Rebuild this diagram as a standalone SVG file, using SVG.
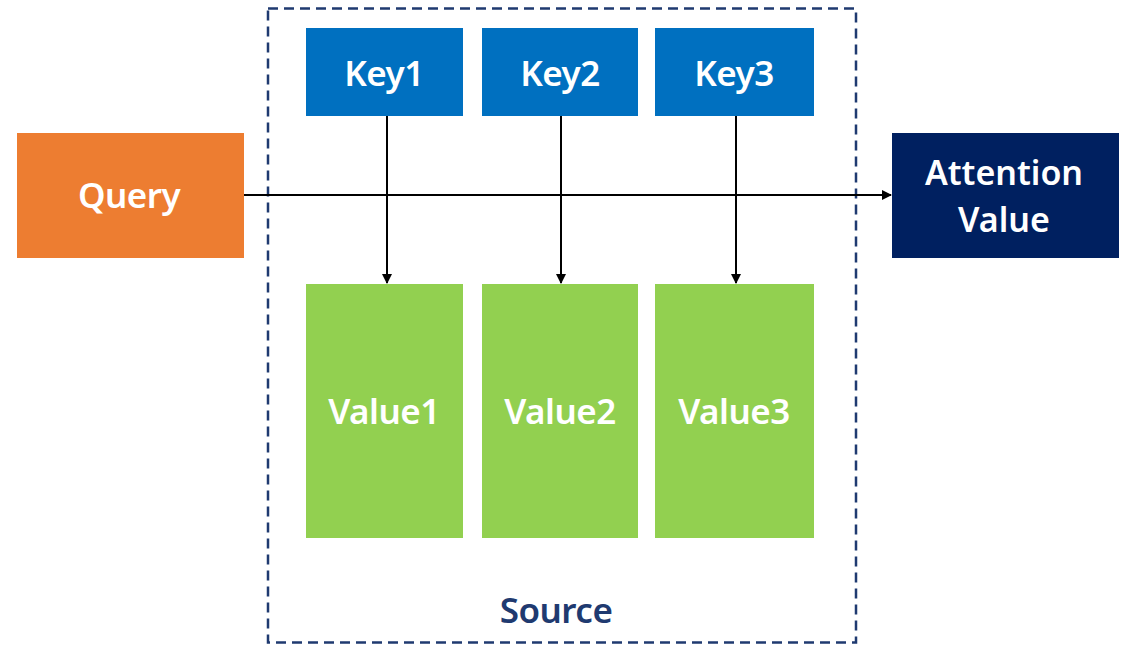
<svg xmlns="http://www.w3.org/2000/svg" width="1127" height="647" viewBox="0 0 1127 647">
  <style>
    .lbl { font-family: "Noto Sans", "Open Sans", "Liberation Sans", sans-serif; font-weight: 600; fill: #ffffff; text-anchor: middle; font-size: 35px; letter-spacing: -0.5px; }
    .lbl2 { font-size: 34px; letter-spacing: 0px; }
    .key { fill: #0070C0; }
    .val { fill: #92D050; }
    .wire { stroke: #000000; stroke-width: 2; fill: none; }
  </style>
  <defs>
    <marker id="arrow" viewBox="0 0 10 10" refX="9" refY="5" markerWidth="5" markerHeight="5" orient="auto">
      <path d="M0,0 L10,5 L0,10 z" fill="#000000"/>
    </marker>
  </defs>
  <rect width="1127" height="647" fill="#ffffff"/>

  <!-- source boundary -->
  <g id="source">
    <rect x="268" y="8.5" width="588" height="634" fill="none" stroke="#1F3A70" stroke-width="2.5" stroke-dasharray="10 6"/>
    <text x="556" y="623" font-family="Noto Sans, Open Sans, Liberation Sans, sans-serif" font-weight="600" font-size="35" letter-spacing="-0.5" fill="#1F3A70" text-anchor="middle">Source</text>
  </g>

  <g id="query">
    <rect x="17" y="133" width="227" height="125" fill="#ED7D31"/>
    <text class="lbl" x="129" y="208">Query</text>
  </g>

  <g id="attention">
    <rect x="892" y="133" width="227" height="125" fill="#002060"/>
    <text class="lbl lbl2" x="1004" y="185">Attention</text>
    <text class="lbl lbl2" x="1004" y="232">Value</text>
  </g>

  <g id="key1"><rect class="key" x="306" y="28" width="157" height="88"/><text class="lbl" x="384" y="86">Key1</text></g>
  <g id="key2"><rect class="key" x="482" y="28" width="156" height="88"/><text class="lbl" x="560" y="86">Key2</text></g>
  <g id="key3"><rect class="key" x="655" y="28" width="159" height="88"/><text class="lbl" x="734" y="86">Key3</text></g>

  <g id="value1"><rect class="val" x="306" y="284" width="157" height="254"/><text class="lbl" x="384" y="424">Value1</text></g>
  <g id="value2"><rect class="val" x="482" y="284" width="156" height="254"/><text class="lbl" x="560" y="424">Value2</text></g>
  <g id="value3"><rect class="val" x="655" y="284" width="159" height="254"/><text class="lbl" x="734" y="424">Value3</text></g>

  <g id="connectors">
    <line class="wire" x1="244" y1="195" x2="891" y2="195" marker-end="url(#arrow)"/>
    <line class="wire" x1="387" y1="116" x2="387" y2="283" marker-end="url(#arrow)"/>
    <line class="wire" x1="561" y1="116" x2="561" y2="283" marker-end="url(#arrow)"/>
    <line class="wire" x1="736" y1="116" x2="736" y2="283" marker-end="url(#arrow)"/>
  </g>
</svg>
